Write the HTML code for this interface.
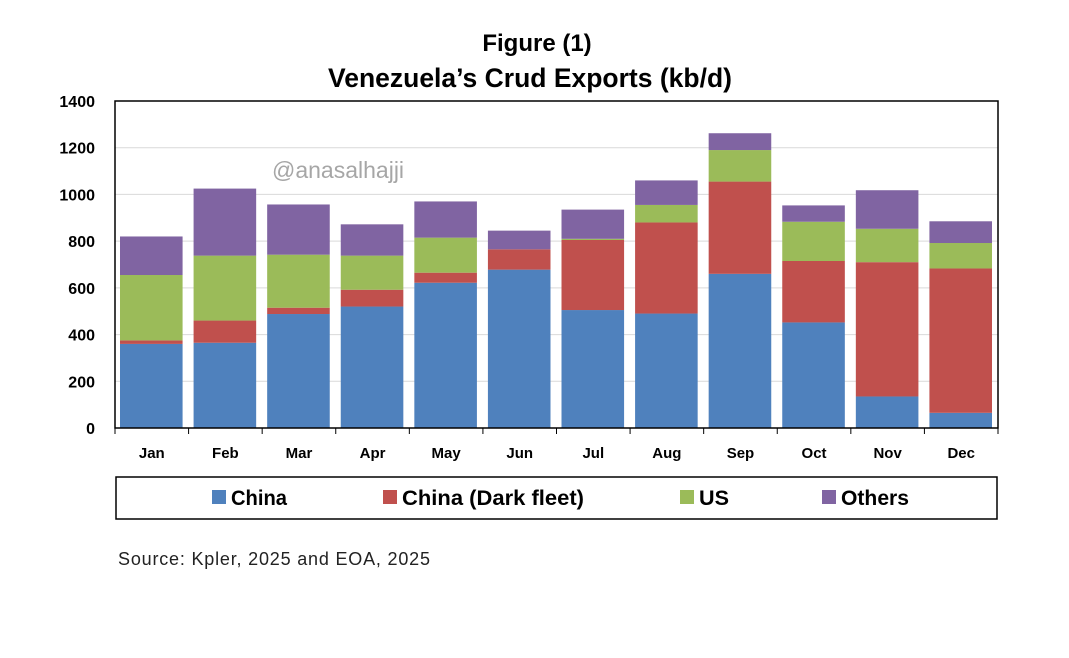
<!DOCTYPE html>
<html><head><meta charset="utf-8"><style>
body{margin:0;background:#fff;font-family:"Liberation Sans",sans-serif}
</style></head><body>
<svg id="c" width="1069" height="653">
<text x="537" y="51" text-anchor="middle" font-size="24" font-weight="bold">Figure (1)</text>
<text x="530" y="87" text-anchor="middle" font-size="26.5" font-weight="bold">Venezuela’s Crud Exports (kb/d)</text>
<text x="272" y="178" font-size="23" fill="#a6a6a6">@anasalhajji</text>
<g id="grid"></g><g id="bars"></g><g id="axes"></g>
<rect x="116" y="477" width="881" height="42" fill="none" stroke="#000" stroke-width="1.5"/>
<g id="legend"></g>
<text x="118" y="565" font-size="18" fill="#222" textLength="312">Source: Kpler, 2025 and EOA, 2025</text>
</svg>
<script>
const months=["Jan","Feb","Mar","Apr","May","Jun","Jul","Aug","Sep","Oct","Nov","Dec"];
const china=[360,365,488,520,622,678,505,490,660,452,135,65];
const darkFleet=[15,95,27,72,43,87,300,390,395,263,575,618];
const us=[280,278,227,146,150,0,5,75,135,168,143,109];
const others=[165,287,215,134,155,80,125,105,72,70,165,93];
const yTicks=[0,200,400,600,800,1000,1200,1400];
const series=[["China",china,"#4f81bd"],["China (Dark fleet)",darkFleet,"#c0504d"],["US",us,"#9bbb59"],["Others",others,"#8064a2"]];
const x0=115,x1=998,y0=428,yTop=101,ns="http://www.w3.org/2000/svg";
const y=v=>y0-(v/1400)*(y0-yTop);
const bw=(x1-x0)/months.length;
function mk(t,a,p){const e=document.createElementNS(ns,t);for(const k in a)e.setAttribute(k,a[k]);p.appendChild(e);return e;}
const g=document.getElementById('grid'),b=document.getElementById('bars'),ax=document.getElementById('axes'),lg=document.getElementById('legend');
yTicks.forEach(t=>{
 const l=mk('line',{x1:x0,x2:x1,y1:y(t),y2:y(t),stroke:'#d9d9d9','stroke-width':1},g);
 
 
 const tx=mk('text',{x:95,y:y(t)+6,'text-anchor':'end','font-size':16,'font-weight':'bold'},ax);
 tx.textContent=t;
 
 
});
months.forEach((m,i)=>{
 let acc=0;
 series.forEach(([n,arr,col])=>{
  const v=arr[i];
  const r=mk('rect',{x:x0+i*bw+5,width:bw-11,y:y(acc+v),height:y(acc)-y(acc+v),fill:col},b);
  
  
  acc+=v;
 });
 const tx=mk('text',{x:x0+(i+0.5)*bw,y:458,'text-anchor':'middle','font-size':15,'font-weight':'bold'},ax);
 tx.textContent=m;
 
 
 const tk=mk('line',{x1:x0+i*bw,x2:x0+i*bw,y1:y0,y2:y0+6,stroke:'#000'},ax);
 
 
});
const tkl=mk('line',{x1:x1,x2:x1,y1:y0,y2:y0+6,stroke:'#000'},ax);


const fr=mk('rect',{x:x0,y:yTop,width:x1-x0,height:y0-yTop,fill:'none',stroke:'#000','stroke-width':1.5},ax);


const lx=[212,383,680,822];
const lw=[56,182,30,68];
series.forEach(([n,arr,col],i)=>{
 const s=mk('rect',{x:lx[i],y:490,width:14,height:14,fill:col},lg);
 
 
 const t=mk('text',{x:lx[i]+19,y:505,'font-size':21,'font-weight':'bold',textLength:lw[i],lengthAdjust:'spacingAndGlyphs'},lg);
 t.textContent=n;
 
 
});
</script>
</body></html>
